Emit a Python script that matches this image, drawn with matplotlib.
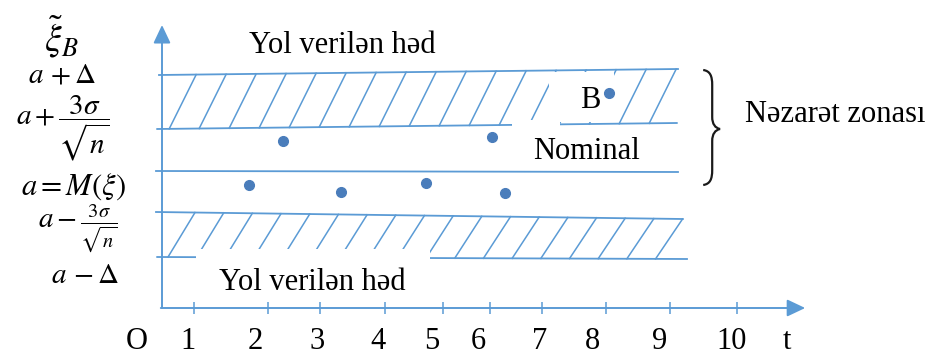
import numpy as np
import matplotlib.pyplot as plt
from matplotlib.path import Path
from matplotlib.patches import PathPatch, Rectangle

plt.rcParams['mathtext.fontset'] = 'stix'
serif = ['Liberation Serif', 'DejaVu Serif']

# Sərhəd xətləri: ((t sol, t sağ), (səviyyə sol, səviyyə sağ))
upper_limit = ((-0.05, 8.6), (5.825, 5.975))   # a + Δ
upper_ctrl = ((-0.08, 8.58), (4.475, 4.625))   # a + 3σ/√n
nominal = ((-0.1, 8.6), (3.425, 3.4))          # a = M(ξ)
lower_ctrl = ((-0.1, 8.68), (2.4, 2.225))      # a - 3σ/√n
lower_limit = ((-0.08, 8.75), (1.275, 1.225))  # a - Δ

# Ölçmə nöqtələri
pts_t = [1.45, 2.02, 2.98, 4.4, 5.5, 5.72]
pts_y = [3.075, 4.175, 2.9, 3.125, 4.275, 2.875]
b_t, b_y = 7.45, 5.375

# t oxu
tick_t = [0.53, 1.77, 2.63, 3.72, 4.68, 5.47, 6.33, 7.4, 8.47, 9.58]
tick_labels = ['O', '1', '2', '3', '4', '5', '6', '7', '8', '9', '10', 't']
label_t = [-0.42, 0.43, 1.55, 2.58, 3.6, 4.5, 5.27, 6.3, 7.17, 8.3, 9.5, 10.42]

# Səviyyə yazıları
level_texts = [r'$\tilde{\xi}_B$', r'$a\,+\Delta$', r'$a+\dfrac{3\sigma}{\sqrt{n}}$',
               r'$a=M(\xi)$', r'$a-\frac{3\sigma}{\sqrt{n}}$', r'$a\,-\Delta$']
level_pos = [(-1.67, 6.78), (-1.67, 5.85), (-1.65, 4.5),
             (-1.47, 3.025), (-1.4, 1.975), (-1.28, 0.825)]
level_size = [27, 21, 21, 22, 21, 21]

line_c = '#5b9bd5'
dot_c = '#4a7dbb'


def level_at(line, t):
    (t0, t1), (y0, y1) = line
    return y0 + (y1 - y0) * (t - t0) / (t1 - t0)


def hatch(ax, bottom, top, t_start, step, dx):
    t_end = min(top[0][1], bottom[0][1] + dx)
    for tt in np.arange(t_start, t_end, step):
        tb = tt - dx
        yb, yt = level_at(bottom, tb), level_at(top, tt)
        if tb < 0:
            yb = yb + (yt - yb) * (0 - tb) / dx
            tb = 0
        ax.plot([tb, tt], [yb, yt], color=line_c, lw=1.1, zorder=1)


fig = plt.figure(figsize=(9.3, 3.56), dpi=100)
ax = fig.add_axes([0, 0, 1, 1])
ax.set_xlim(-2.7, 12.8)
ax.set_ylim(-1.2, 7.7)
ax.axis('off')

for line in [upper_limit, upper_ctrl, nominal, lower_ctrl, lower_limit]:
    ax.plot(line[0], line[1], color=line_c, lw=1.3, zorder=1)

hatch(ax, upper_ctrl, upper_limit, 0.57, 0.5, 0.45)
hatch(ax, lower_limit, lower_ctrl, 0.55, 0.478, 0.45)

# yazıların altındakı ağ sahələr
for (t0, t1, y0, y1) in [(0.57, 4.47, 0.95, 1.47), (5.83, 6.63, 4.4, 4.7), (6.45, 7.53, 4.66, 5.9)]:
    ax.add_patch(Rectangle((t0, y0), t1 - t0, y1 - y0, facecolor='white',
                           edgecolor='none', zorder=2))

# oxlar
arrow = dict(arrowstyle='-|>,head_length=0.55,head_width=0.26', color=line_c,
             lw=1.4, mutation_scale=20, shrinkA=0, shrinkB=0)
ax.annotate('', xy=(0, 7.075), xytext=(0, 0), arrowprops=arrow, zorder=3)
ax.annotate('', xy=(10.72, 0), xytext=(-0.02, 0), arrowprops=arrow, zorder=3)
ax.vlines(tick_t, -0.15, 0.15, color=line_c, lw=1.1, zorder=3)

for lab, t in zip(tick_labels, label_t):
    ax.text(t, -1.025, lab, ha='center', va='baseline', fontsize=22, family=serif)

for txt, (t, y), fs in zip(level_texts, level_pos, level_size):
    ax.text(t, y, txt, ha='center', va='center', fontsize=fs)

ax.plot(pts_t, pts_y, 'o', color=dot_c, ms=7, zorder=4)
ax.plot([b_t], [b_y], 'o', color=dot_c, ms=7, zorder=4)
ax.text(7.13, 5.0, 'B', ha='center', va='baseline', fontsize=22, family=serif, zorder=4)

ax.text(3.0, 6.375, 'Yol verilən həd', ha='center', va='baseline', fontsize=22, family=serif)
ax.text(2.5, 0.45, 'Yol verilən həd', ha='center', va='baseline', fontsize=22,
        family=serif, zorder=4)
ax.text(7.07, 3.725, 'Nominal', ha='center', va='baseline', fontsize=22,
        family=serif, zorder=4)
ax.text(9.72, 4.65, 'Nəzarət zonası', ha='left', va='baseline', fontsize=22, family=serif)

# fiqurlu mötərizə
x0, xm, xt = 9.02, 9.17, 9.3
yt, yc, yb = 5.95, 4.475, 3.075
px, py = 1 / 60, 1 / 40
verts = [(x0, yt), (x0 + 7 * px, yt - py), (xm, yt - 6 * py), (xm, yt - 15 * py),
         (xm, yc + 12 * py),
         (xm, yc + 5 * py), (xm + 3 * px, yc + py), (xt, yc),
         (xm + 3 * px, yc - py), (xm, yc - 5 * py), (xm, yc - 12 * py),
         (xm, yb + 15 * py),
         (xm, yb + 6 * py), (x0 + 7 * px, yb + py), (x0, yb)]
codes = [Path.MOVETO, Path.CURVE4, Path.CURVE4, Path.CURVE4, Path.LINETO,
         Path.CURVE4, Path.CURVE4, Path.CURVE4, Path.CURVE4, Path.CURVE4, Path.CURVE4,
         Path.LINETO, Path.CURVE4, Path.CURVE4, Path.CURVE4]
ax.add_patch(PathPatch(Path(verts, codes), facecolor='none', edgecolor='#1a1a1a', lw=1.6))

fig.savefig('out.png', dpi=100)
